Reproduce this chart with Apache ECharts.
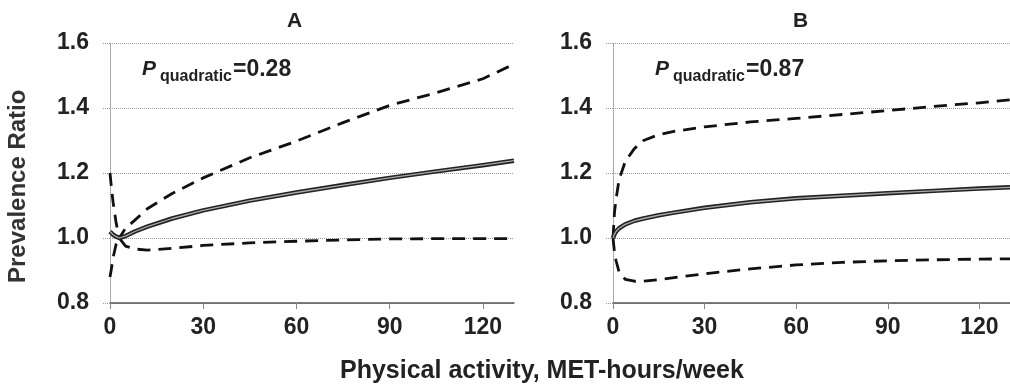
<!DOCTYPE html>
<html>
<head>
<meta charset="utf-8">
<script src="https://cdn.jsdelivr.net/npm/echarts@6/dist/echarts.min.js"></script>
<style>
html,body{margin:0;padding:0;background:#fff;}
#c{width:1010px;height:385px;}
</style>
</head>
<body>
<div id="c"></div>
<script>
// ---- data ----
const panelTitles = ['A', 'B'];
const pValues = ['=0.28', '=0.87'];
const xTicks = [0, 30, 60, 90, 120];
const yTicks = [0.8, 1.0, 1.2, 1.4, 1.6];

const xA = [0, 0.5, 1, 2, 3, 5, 8, 12, 20, 30, 45, 60, 75, 90, 105, 120, 130];
const solidA = [1.02, 1.015, 1.01, 1.004, 1.0, 1.006, 1.02, 1.035, 1.06, 1.085, 1.115, 1.14, 1.163, 1.185, 1.205, 1.224, 1.238];
const upperA = [1.2, 1.15, 1.11, 1.045, 1.0, 1.03, 1.055, 1.09, 1.137, 1.185, 1.247, 1.298, 1.355, 1.408, 1.447, 1.49, 1.535];
const lowerA = [0.88, 0.908, 0.94, 0.982, 1.0, 0.975, 0.966, 0.963, 0.968, 0.977, 0.985, 0.99, 0.994, 0.997, 0.998, 0.998, 0.998];

const xB = [0, 0.5, 1, 2, 4, 7, 10, 15, 20, 30, 45, 60, 75, 90, 105, 120, 130];
const solidB = [1.0, 1.012, 1.02, 1.03, 1.042, 1.053, 1.06, 1.07, 1.078, 1.093, 1.11, 1.122, 1.13, 1.138, 1.145, 1.152, 1.156];
const upperB = [1.0, 1.08, 1.12, 1.18, 1.235, 1.275, 1.3, 1.318, 1.328, 1.342, 1.357, 1.368, 1.38, 1.392, 1.405, 1.416, 1.425];
const lowerB = [1.0, 0.955, 0.93, 0.895, 0.873, 0.867, 0.867, 0.872, 0.878, 0.89, 0.905, 0.917, 0.925, 0.93, 0.933, 0.935, 0.936];

const yName = 'Prevalence Ratio';
const xName = 'Physical activity, MET-hours/week';

// ---- chart ----
const FONT = '"Liberation Sans", Arial, Helvetica, sans-serif';
const zip = (xs, ys) => xs.map((x, i) => [x, ys[i]]);

function xAxis(gi) {
  return {
    type: 'value', gridIndex: gi, min: 0, max: 130, interval: 30,
    axisLine: { show: true, lineStyle: { color: '#555', width: 1.5 } },
    axisTick: { show: true, length: 6, lineStyle: { color: '#888' }, customValues: xTicks },
    axisLabel: { customValues: xTicks, margin: 13, fontFamily: FONT, fontWeight: 'bold', fontSize: 23, color: '#222' },
    splitLine: { show: false }
  };
}
function yAxis(gi) {
  return {
    type: 'value', gridIndex: gi, min: 0.8, max: 1.6, interval: 0.2,
    axisLine: { show: true, lineStyle: { color: '#999', type: 'dotted', width: 1 } },
    axisTick: { show: true, length: 8, lineStyle: { color: '#999', type: 'dotted' } },
    axisLabel: { margin: 21, fontFamily: FONT, fontWeight: 'bold', fontSize: 23, color: '#222',
      formatter: v => v.toFixed(1) },
    splitLine: { show: true, lineStyle: { color: '#999', type: 'dotted', width: 1 } }
  };
}
function solid(gi, xs, ys) {
  return [
    { type: 'line', xAxisIndex: gi, yAxisIndex: gi, data: zip(xs, ys), symbol: 'none',
      lineStyle: { color: '#222', width: 4.5, join: 'round' }, z: 3 },
    { type: 'line', xAxisIndex: gi, yAxisIndex: gi, data: zip(xs, ys), symbol: 'none',
      lineStyle: { color: '#aaa', width: 1.3, join: 'round' }, z: 4 }
  ];
}
function dashed(gi, xs, ys) {
  return { type: 'line', xAxisIndex: gi, yAxisIndex: gi, data: zip(xs, ys), symbol: 'none',
    lineStyle: { color: '#111', width: 2.8, type: [13, 8], join: 'round' }, z: 2 };
}

function pText(x, val) {
  return [
    { type: 'text', left: x, top: 59, style: { text: 'P', font: 'italic bold 21px ' + FONT, fill: '#222' } },
    { type: 'text', left: x + 18, top: 69, style: { text: 'quadratic', font: 'bold 16px ' + FONT, fill: '#222' } },
    { type: 'text', left: x + 91, top: 58, style: { text: val, font: 'bold 23px ' + FONT, fill: '#222' } }
  ];
}

const chart = echarts.init(document.getElementById('c'), null, { renderer: 'canvas' });
chart.setOption({
  animation: false,
  backgroundColor: '#fff',
  grid: [
    { left: 110, top: 43, width: 404, height: 260 },
    { left: 613, top: 43, width: 403, height: 260 }
  ],
  xAxis: [xAxis(0), xAxis(1)],
  yAxis: [yAxis(0), yAxis(1)],
  series: [
    dashed(0, xA, upperA), dashed(0, xA, lowerA), ...solid(0, xA, solidA),
    dashed(1, xB, upperB), dashed(1, xB, lowerB), ...solid(1, xB, solidB)
  ],
  graphic: [
    { type: 'text', left: 287, top: 11, style: { text: panelTitles[0], font: 'bold 21px ' + FONT, fill: '#222' } },
    { type: 'text', left: 793, top: 11, style: { text: panelTitles[1], font: 'bold 21px ' + FONT, fill: '#222' } },
    ...pText(142, pValues[0]),
    ...pText(655, pValues[1]),
    { type: 'text', x: 6, y: 283, rotation: Math.PI / 2, style: { text: yName, font: 'bold 24px ' + FONT, fill: '#333', align: 'left', verticalAlign: 'top' } },
    { type: 'text', left: 340, top: 359, style: { text: xName, font: 'bold 25px ' + FONT, fill: '#222' } }
  ]
});
</script>
</body>
</html>
